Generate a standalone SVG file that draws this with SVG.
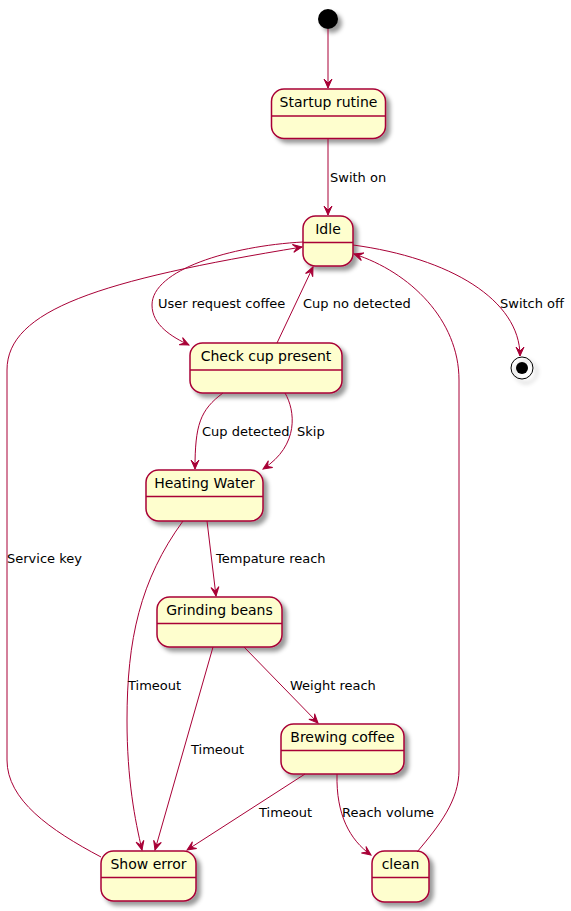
<svg xmlns="http://www.w3.org/2000/svg" width="571" height="911" viewBox="0 0 571 911">
  <style>
    .st rect { fill: #FEFECE; stroke: #A80036; stroke-width: 1.5; filter: url(#shadow); }
    .st line { stroke: #A80036; stroke-width: 1.5; }
    .name { font-family: "DejaVu Sans", sans-serif; font-size: 14px; fill: #000; text-anchor: middle; }
    .lbl { font-family: "DejaVu Sans", sans-serif; font-size: 13px; fill: #000; }
    .edges path { fill: none; stroke: #A80036; stroke-width: 1; marker-end: url(#arrow); }
  </style>
  <defs>
    <filter id="shadow" x="-1" y="-1" width="300%" height="300%">
      <feGaussianBlur in="SourceAlpha" stdDeviation="2" result="b"/>
      <feColorMatrix in="b" type="matrix" values="0 0 0 0 0  0 0 0 0 0  0 0 0 0 0  0 0 0 .4 0" result="b2"/>
      <feOffset in="b2" dx="4" dy="4" result="b3"/>
      <feBlend in="SourceGraphic" in2="b3" mode="normal"/>
    </filter>
    <marker id="arrow" viewBox="-10 -5 11 10" refX="0" refY="0" markerWidth="11" markerHeight="10" markerUnits="userSpaceOnUse" orient="auto">
      <path d="M0,0 L-9,-4 L-5,0 L-9,4 Z" fill="#A80036" stroke="#A80036" stroke-width="1"/>
    </marker>
  </defs>

  <!-- pseudo states -->
  <g id="start">
    <circle cx="328" cy="19" r="10" fill="#000" filter="url(#shadow)"/>
  </g>
  <g id="end">
    <circle cx="522" cy="368" r="11" fill="none" stroke="#000" stroke-width="1" filter="url(#shadow)"/>
    <circle cx="522" cy="368" r="6" fill="#000"/>
  </g>

  <!-- states -->
  <g id="startup" class="st">
    <rect x="271.5" y="89" width="114" height="49.5" rx="12.5"/>
    <line x1="271.5" y1="116" x2="385.5" y2="116"/>
    <text class="name" x="328.5" y="107">Startup rutine</text>
  </g>
  <g id="idle" class="st">
    <rect x="303" y="216" width="50" height="50" rx="12.5"/>
    <line x1="303" y1="242.5" x2="353" y2="242.5"/>
    <text class="name" x="328" y="234">Idle</text>
  </g>
  <g id="checkcup" class="st">
    <rect x="190" y="343" width="152" height="50" rx="12.5"/>
    <line x1="190" y1="370" x2="342" y2="370"/>
    <text class="name" x="266" y="361">Check cup present</text>
  </g>
  <g id="heating" class="st">
    <rect x="146" y="470" width="117" height="51" rx="12.5"/>
    <line x1="146" y1="496.5" x2="263" y2="496.5"/>
    <text class="name" x="204.5" y="488">Heating Water</text>
  </g>
  <g id="grinding" class="st">
    <rect x="157" y="597" width="125" height="50" rx="12.5"/>
    <line x1="157" y1="623.5" x2="282" y2="623.5"/>
    <text class="name" x="219.5" y="615">Grinding beans</text>
  </g>
  <g id="brewing" class="st">
    <rect x="281" y="724" width="123" height="50" rx="12.5"/>
    <line x1="281" y1="750.5" x2="404" y2="750.5"/>
    <text class="name" x="342.5" y="742">Brewing coffee</text>
  </g>
  <g id="showerror" class="st">
    <rect x="101" y="851" width="95" height="50" rx="12.5"/>
    <line x1="101" y1="877.5" x2="196" y2="877.5"/>
    <text class="name" x="148.5" y="869">Show error</text>
  </g>
  <g id="clean" class="st">
    <rect x="372" y="851" width="57" height="51" rx="12.5"/>
    <line x1="372" y1="877.5" x2="429" y2="877.5"/>
    <text class="name" x="400.5" y="869">clean</text>
  </g>

  <!-- transitions -->
  <g id="connectors" class="edges">
    <path d="M328,29 L328,88"/>
    <path d="M328,138.5 L328,215"/>
    <path d="M303,242 C230,246 152,270 152,305 C152,325 172,337 189,345"/>
    <path d="M277,343 L313,267"/>
    <path d="M353,245 C450,258 520,300 520,356"/>
    <path d="M101,857 C50,830 7,800 7,760 L7,370 C7,310 100,280 302,247"/>
    <path d="M417,852 C440,825 459,800 459,770 L459,380 C459,320 410,272 354,254"/>
    <path d="M223,393 C200,410 195,425 195,469"/>
    <path d="M285,393 C295,410 300,445 263,469"/>
    <path d="M207,521 L216,596"/>
    <path d="M183,521 C140,580 127,640 127,720 C127,780 135,820 142,850"/>
    <path d="M213,647 L155,850"/>
    <path d="M244,647 L318,723"/>
    <path d="M305,774 L187,850"/>
    <path d="M337,774 C336,815 350,840 371,855"/>
  </g>

  <!-- transition labels -->
  <g id="labels">
    <text class="lbl" x="330" y="182">Swith on</text>
    <text class="lbl" x="158" y="308">User request coffee</text>
    <text class="lbl" x="303" y="308">Cup no detected</text>
    <text class="lbl" x="500" y="308">Switch off</text>
    <text class="lbl" x="7" y="563">Service key</text>
    <text class="lbl" x="202" y="436">Cup detected</text>
    <text class="lbl" x="297" y="436">Skip</text>
    <text class="lbl" x="216" y="563">Tempature reach</text>
    <text class="lbl" x="128" y="690">Timeout</text>
    <text class="lbl" x="290" y="690">Weight reach</text>
    <text class="lbl" x="191" y="754">Timeout</text>
    <text class="lbl" x="259" y="817">Timeout</text>
    <text class="lbl" x="342" y="817">Reach volume</text>
  </g>
</svg>
